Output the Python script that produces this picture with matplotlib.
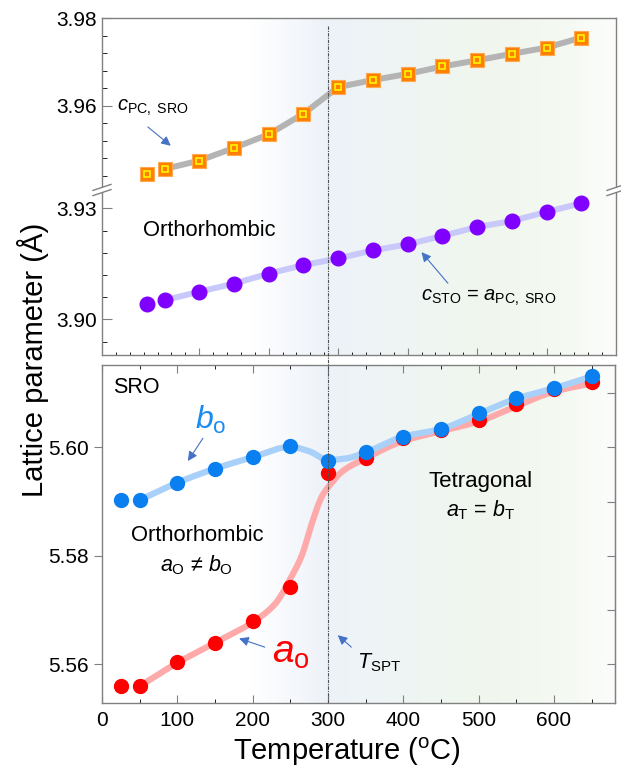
import matplotlib
matplotlib.use('Agg')
import matplotlib.pyplot as plt
import numpy as np
from matplotlib.ticker import MultipleLocator, FixedLocator
from matplotlib.lines import Line2D
from matplotlib.patches import Polygon
import matplotlib.transforms as mtransforms

plt.rcParams['font.family'] = ['Liberation Sans', 'DejaVu Sans']
plt.rcParams['mathtext.fontset'] = 'custom'
plt.rcParams['mathtext.rm'] = 'Liberation Sans'
plt.rcParams['mathtext.it'] = 'Liberation Sans:italic'
plt.rcParams['font.size'] = 15

# temperatures (C)
temps = [25, 50, 100, 150, 200, 250, 300, 350, 400, 450, 500, 550, 600, 650]

# pseudo-cubic c of SRO (A)
c_pc_sro = [3.9445, 3.9456, 3.9475, 3.9504, 3.9535, 3.9582, 3.9643,
            3.9659, 3.9673, 3.9690, 3.9704, 3.9719, 3.9733, 3.9756]
# c of STO = a_pc of SRO (A)
c_sto = [3.9043, 3.9052, 3.9075, 3.9097, 3.9124, 3.9147, 3.9165,
         3.9187, 3.9203, 3.9226, 3.9250, 3.9266, 3.9291, 3.9314]

# orthorhombic SRO a_o and b_o (A)
a_o = [5.5560, 5.5560, 5.5604, 5.5639, 5.5681, 5.5742, 5.5953,
       5.5980, 5.6018, 5.6032, 5.6050, 5.6080, 5.6107, 5.6120]
b_o = [5.5903, 5.5903, 5.5935, 5.5961, 5.5982, 5.6002, 5.5975,
       5.5991, 5.6020, 5.6034, 5.6063, 5.6092, 5.6109, 5.6132]

# guide-to-the-eye curves
guide_a_t = [50, 100, 150, 200, 230, 250, 265, 280, 292, 305, 320, 350,
             400, 450, 500, 550, 600, 650]
guide_a = [5.5560, 5.5603, 5.5640, 5.5678, 5.5712, 5.5758, 5.5800, 5.5866,
           5.5910, 5.5935, 5.5957, 5.5980, 5.6012, 5.6030, 5.6048, 5.6076,
           5.6103, 5.6118]
guide_b_t = [50, 100, 150, 200, 250, 275, 300, 325, 350, 400, 450, 500,
             550, 600, 650]
guide_b = [5.5903, 5.5935, 5.5961, 5.5982, 5.6001, 5.5993, 5.5977, 5.5980,
           5.5991, 5.6020, 5.6034, 5.6062, 5.6090, 5.6109, 5.6131]

t_spt = 300


def pchip(x, y, xs):
    x = np.asarray(x, float)
    y = np.asarray(y, float)
    h = np.diff(x)
    d = np.diff(y) / h
    m = np.zeros_like(y)
    for k in range(1, len(x) - 1):
        if d[k - 1] * d[k] > 0:
            w1 = 2 * h[k] + h[k - 1]
            w2 = h[k] + 2 * h[k - 1]
            m[k] = (w1 + w2) / (w1 / d[k - 1] + w2 / d[k])
    m[0] = d[0]
    m[-1] = d[-1]
    i = np.clip(np.searchsorted(x, xs) - 1, 0, len(h) - 1)
    t = (xs - x[i]) / h[i]
    h00 = 2 * t**3 - 3 * t**2 + 1
    h10 = t**3 - 2 * t**2 + t
    h01 = -2 * t**3 + 3 * t**2
    h11 = t**3 - t**2
    return h00 * y[i] + h10 * h[i] * m[i] + h01 * y[i + 1] + h11 * h[i] * m[i + 1]


def add_gradient(ax):
    stops = [0.0, 0.29, 0.44, 0.56, 0.75, 0.9, 1.0]
    cols = np.array([[1, 1, 1], [1, 1, 1], [0.93, 0.95, 0.977],
                     [0.935, 0.958, 0.958], [0.942, 0.967, 0.93],
                     [0.958, 0.977, 0.95], [0.988, 0.992, 0.984]])
    xs = np.linspace(0, 1, 600)
    img = np.stack([np.interp(xs, stops, cols[:, j]) for j in range(3)], axis=-1)
    ax.imshow(img[np.newaxis, :, :], extent=[0, 1, 0, 1], transform=ax.transAxes,
              aspect='auto', zorder=0, interpolation='bilinear')


spine_col = '#808080'
arrow_col = '#4472c4'
aprops = dict(arrowstyle='-|>', color=arrow_col, lw=0.8, mutation_scale=14,
              shrinkA=0, shrinkB=0)

fig = plt.figure(figsize=(6.21, 7.72), dpi=100)
L = 102 / 621
W = 514 / 621
ax_up = fig.add_axes([L, 1 - 190 / 772, W, (190 - 18.3) / 772])
ax_lo = fig.add_axes([L, 1 - 355 / 772, W, (355 - 190) / 772])
ax_b = fig.add_axes([L, 1 - 703 / 772, 513 / 621, (703 - 365) / 772])

for ax in (ax_up, ax_lo, ax_b):
    add_gradient(ax)
    for s in ax.spines.values():
        s.set_color(spine_col)
        s.set_linewidth(1.0)
    ax.tick_params(colors=spine_col, labelcolor='black', labelsize=15)

# ---- top panel: broken axis ----
ax_up.plot(temps[1:], c_pc_sro[1:], '-', color='#b4b4b4', lw=4.3, zorder=2)
ax_up.plot(temps, c_pc_sro, 's', ms=9.6, mfc='#ff8000', mec='#ffa850', mew=0.8,
           zorder=3, clip_on=False)
ax_up.plot(temps, c_pc_sro, 's', ms=4.2, mfc='#ff8000', mec='#ffff00', mew=1.1,
           zorder=4, clip_on=False)

ax_lo.plot(temps[1:], c_sto[1:], '-', color='#c8c8fa', lw=4.3, zorder=2)
ax_lo.plot(temps, c_sto, 'o', ms=10.5, color='#7f00ff', zorder=3)

for ax in (ax_up, ax_lo):
    ax.set_xlim(-40, 700)
ax_up.set_ylim(3.9408, 3.98)
ax_lo.set_ylim(3.8904, 3.935)
ax_up.spines['bottom'].set_visible(False)
ax_lo.spines['top'].set_visible(False)

ax_up.set_yticks([3.96, 3.98])
ax_up.set_yticklabels(['3.96', '3.98'])
ax_up.yaxis.set_minor_locator(MultipleLocator(0.004))
ax_lo.set_yticks([3.90, 3.93])
ax_lo.set_yticklabels(['3.90', '3.93'])
ax_lo.yaxis.set_minor_locator(MultipleLocator(0.006))
for ax in (ax_up, ax_lo):
    ax.tick_params(axis='y', which='both', direction='in', left=True, right=False)
    ax.tick_params(axis='y', which='major', length=7)
    ax.tick_params(axis='y', which='minor', length=3.5)
ax_up.tick_params(axis='x', which='both', bottom=False, top=False, labelbottom=False)
ax_lo.xaxis.set_major_locator(FixedLocator([100, 200, 300, 400, 500, 600]))
ax_lo.xaxis.set_minor_locator(MultipleLocator(20))
ax_lo.tick_params(axis='x', which='both', direction='in', bottom=True, top=False,
                  labelbottom=False)
ax_lo.tick_params(axis='x', which='major', length=5)
ax_lo.tick_params(axis='x', which='minor', length=2.5)

ax_up.text(-18, 3.9589, r'$c_{\mathrm{PC,\ SRO}}$', fontsize=14.5, ha='left', va='baseline')
ax_up.annotate('', xy=(59, 3.9509), xytext=(26, 3.9552), arrowprops=aprops)
ax_lo.text(114, 3.9241, 'Orthorhombic', ha='center', va='center', fontsize=15.8)
ax_lo.text(517, 3.9052, r'$c_{\mathrm{STO}}$ = $a_{\mathrm{PC,\ SRO}}$', fontsize=14.5,
           ha='center', va='baseline')
ax_lo.annotate('', xy=(420, 3.9182), xytext=(458, 3.9098), arrowprops=aprops)


# break marks
def break_mark(xfig, yfig):
    dx, dy, g = 9 / 621, 3 / 772, 2.6 / 772
    poly = Polygon([[xfig - dx, yfig - dy - g], [xfig + dx, yfig + dy - g],
                    [xfig + dx, yfig + dy + g], [xfig - dx, yfig - dy + g]],
                   closed=True, facecolor='white', edgecolor='none',
                   transform=fig.transFigure, zorder=10)
    fig.add_artist(poly)
    for off in (-g, g):
        fig.add_artist(Line2D([xfig - dx, xfig + dx], [yfig - dy + off, yfig + dy + off],
                              color=spine_col, lw=1.0, transform=fig.transFigure,
                              zorder=11))


yb = 1 - 190 / 772
break_mark(L, yb)
break_mark(L + W, yb)

# ---- bottom panel ----
tt = np.linspace(50, 650, 400)
ax_b.plot(tt, pchip(guide_a_t, guide_a, tt), '-', color='#ffaaaa', lw=4.5, zorder=2)
ax_b.plot(tt, pchip(guide_b_t, guide_b, tt), '-', color='#a8d0f8', lw=4.5, zorder=2)
ax_b.plot(temps, a_o, 'o', ms=10, color='#ff0000', zorder=3)
ax_b.plot(temps, b_o, 'o', ms=10, color='#0a80f0', zorder=4)

ax_b.set_xlim(0, 681)
ax_b.set_ylim(5.5529, 5.6152)
ax_b.set_xticks([0, 100, 200, 300, 400, 500, 600])
ax_b.xaxis.set_minor_locator(MultipleLocator(50))
ax_b.tick_params(axis='x', which='both', direction='in', top=True, bottom=True, pad=6)
ax_b.tick_params(axis='x', which='major', length=6)
ax_b.tick_params(axis='x', which='minor', length=3)
ax_b.set_yticks([5.56, 5.58, 5.60])
ax_b.set_yticklabels(['5.56', '5.58', '5.60'])
ax_b.tick_params(axis='y', which='major', direction='out', length=6, left=True, right=False)
sec = ax_b.secondary_yaxis('right')
sec.set_yticks([5.56, 5.57, 5.58, 5.59, 5.60, 5.61])
sec.tick_params(direction='in', length=6, labelright=False, colors=spine_col)
sec.spines['right'].set_color(spine_col)

ax_b.text(15, 5.6110, 'SRO', ha='left', va='center', fontsize=15.5)
ax_b.text(124, 5.6035, r'$b_{\mathrm{o}}$', color='#1a8cf0', fontsize=23, ha='left', va='baseline')
ax_b.annotate('', xy=(114, 5.5975), xytext=(134, 5.6017), arrowprops=aprops)
ax_b.text(126, 5.5837, 'Orthorhombic', ha='center', va='center', fontsize=15.8)
ax_b.text(126, 5.5783, r'$a_{\mathrm{O}}$ ≠ $b_{\mathrm{O}}$', ha='center', va='center', fontsize=15.5)
ax_b.text(226, 5.5604, r'$a_{\mathrm{o}}$', color='#ff0000', fontsize=28, ha='left', va='baseline')
ax_b.annotate('', xy=(182, 5.5648), xytext=(216, 5.5632), arrowprops=aprops)
ax_b.text(502, 5.5937, 'Tetragonal', ha='center', va='center', fontsize=16)
ax_b.text(502, 5.5884, r'$a_{\mathrm{T}}$ = $b_{\mathrm{T}}$', ha='center', va='center', fontsize=15.5)
ax_b.text(338, 5.5592, r'$T_{\mathrm{SPT}}$', ha='left', va='baseline', fontsize=15.5)
ax_b.annotate('', xy=(313, 5.5654), xytext=(331, 5.5632), arrowprops=aprops)

# transition temperature line running through both panels
trans = mtransforms.blended_transform_factory(ax_b.transData, fig.transFigure)
fig.add_artist(Line2D([t_spt, t_spt], [1 - 26 / 772, 1 - 703 / 772], transform=trans,
                      color='#505050', lw=0.8, ls=(0, (3, 1, 1, 1)), zorder=5))

ax_b.set_xlabel(r'Temperature ($^{\mathrm{o}}$C)', fontsize=21)
ax_b.xaxis.set_label_coords(0.478, -0.095)
fig.text(33 / 621, 1 - 360 / 772, 'Lattice parameter (Å)', rotation=90,
         ha='center', va='center', fontsize=21)

fig.savefig('out.png', dpi=100)
